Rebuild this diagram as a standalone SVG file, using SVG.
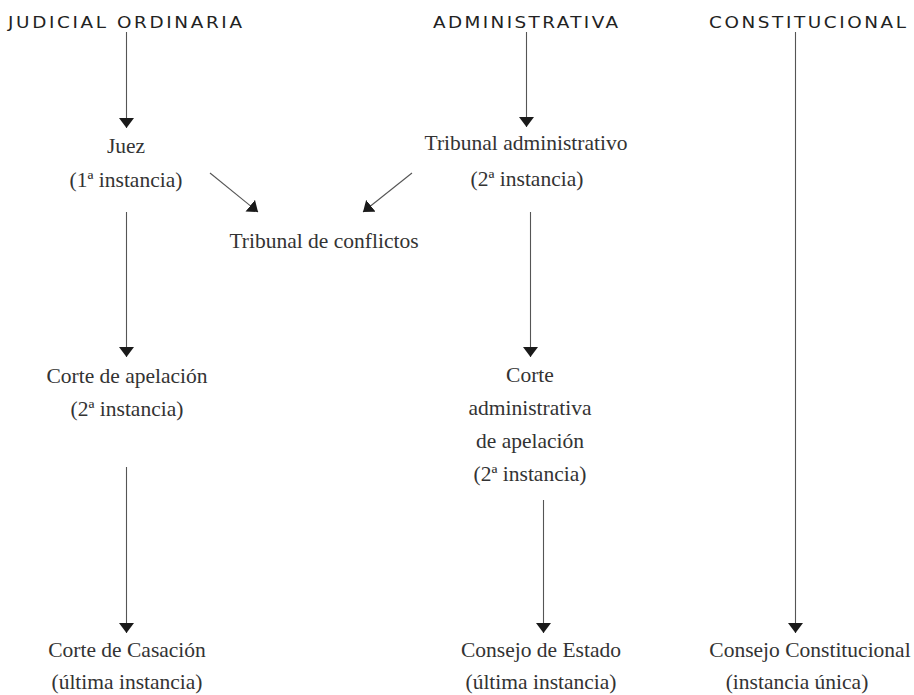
<svg xmlns="http://www.w3.org/2000/svg" width="914" height="695" viewBox="0 0 914 695">
<style>
.hd{font-family:"DejaVu Sans","Liberation Sans",sans-serif;font-size:16px;fill:#222;text-anchor:middle}
.t{font-family:"Liberation Serif","Times New Roman",serif;font-size:21.5px;fill:#333;text-anchor:middle}
.ln{stroke:#555;stroke-width:1.1;fill:none;marker-end:url(#ah)}
</style>
<defs>
<marker id="ah" viewBox="0 0 10 15" refX="10" refY="7.5" markerUnits="userSpaceOnUse" markerWidth="10" markerHeight="15" orient="auto">
<path d="M0,0 L10,7.5 L0,15 z" fill="#1a1a1a"/>
</marker>
</defs>
<g id="h-judicial" transform="translate(125,28) scale(1.15,1)"><text class="hd" x="0" y="0" textLength="203.5" lengthAdjust="spacing">JUDICIAL ORDINARIA</text></g>
<g id="h-admin" transform="translate(525.5,28) scale(1.15,1)"><text class="hd" x="0" y="0" textLength="161" lengthAdjust="spacing">ADMINISTRATIVA</text></g>
<g id="h-const" transform="translate(807.5,28) scale(1.15,1)"><text class="hd" x="0" y="0" textLength="171.3" lengthAdjust="spacing">CONSTITUCIONAL</text></g>
<g id="juez"><text class="t" x="126" y="153">Juez</text><text class="t" x="126" y="187">(1ª instancia)</text></g>
<g id="trib-admin"><text class="t" x="526" y="150">Tribunal administrativo</text><text class="t" x="527" y="186">(2ª instancia)</text></g>
<g id="trib-conf"><text class="t" x="324" y="248">Tribunal de conflictos</text></g>
<g id="corte-apel"><text class="t" x="127" y="383">Corte de apelación</text><text class="t" x="127" y="416">(2ª instancia)</text></g>
<g id="corte-admin-apel"><text class="t" x="530" y="382">Corte</text><text class="t" x="530" y="415">administrativa</text><text class="t" x="530" y="448">de apelación</text><text class="t" x="530" y="481">(2ª instancia)</text></g>
<g id="casacion"><text class="t" x="127" y="657">Corte de Casación</text><text class="t" x="127" y="689">(última instancia)</text></g>
<g id="consejo-estado"><text class="t" x="541" y="657">Consejo de Estado</text><text class="t" x="541" y="689">(última instancia)</text></g>
<g id="consejo-const"><text class="t" x="810" y="657">Consejo Constitucional</text><text class="t" x="797" y="689">(instancia única)</text></g>
<g id="connectors">
<line class="ln" x1="126.5" y1="32" x2="126.5" y2="128"/>
<line class="ln" x1="126.5" y1="212" x2="126.5" y2="357"/>
<line class="ln" x1="126.5" y1="467" x2="126.5" y2="633"/>
<line class="ln" x1="526.5" y1="32" x2="526.5" y2="127"/>
<line class="ln" x1="530.5" y1="212" x2="530.5" y2="357"/>
<line class="ln" x1="543.5" y1="500" x2="543.5" y2="633"/>
<line class="ln" x1="795.5" y1="32" x2="795.5" y2="633"/>
<line class="ln" x1="210" y1="173" x2="258" y2="212"/>
<line class="ln" x1="412" y1="173" x2="363" y2="212"/>
</g>
</svg>
